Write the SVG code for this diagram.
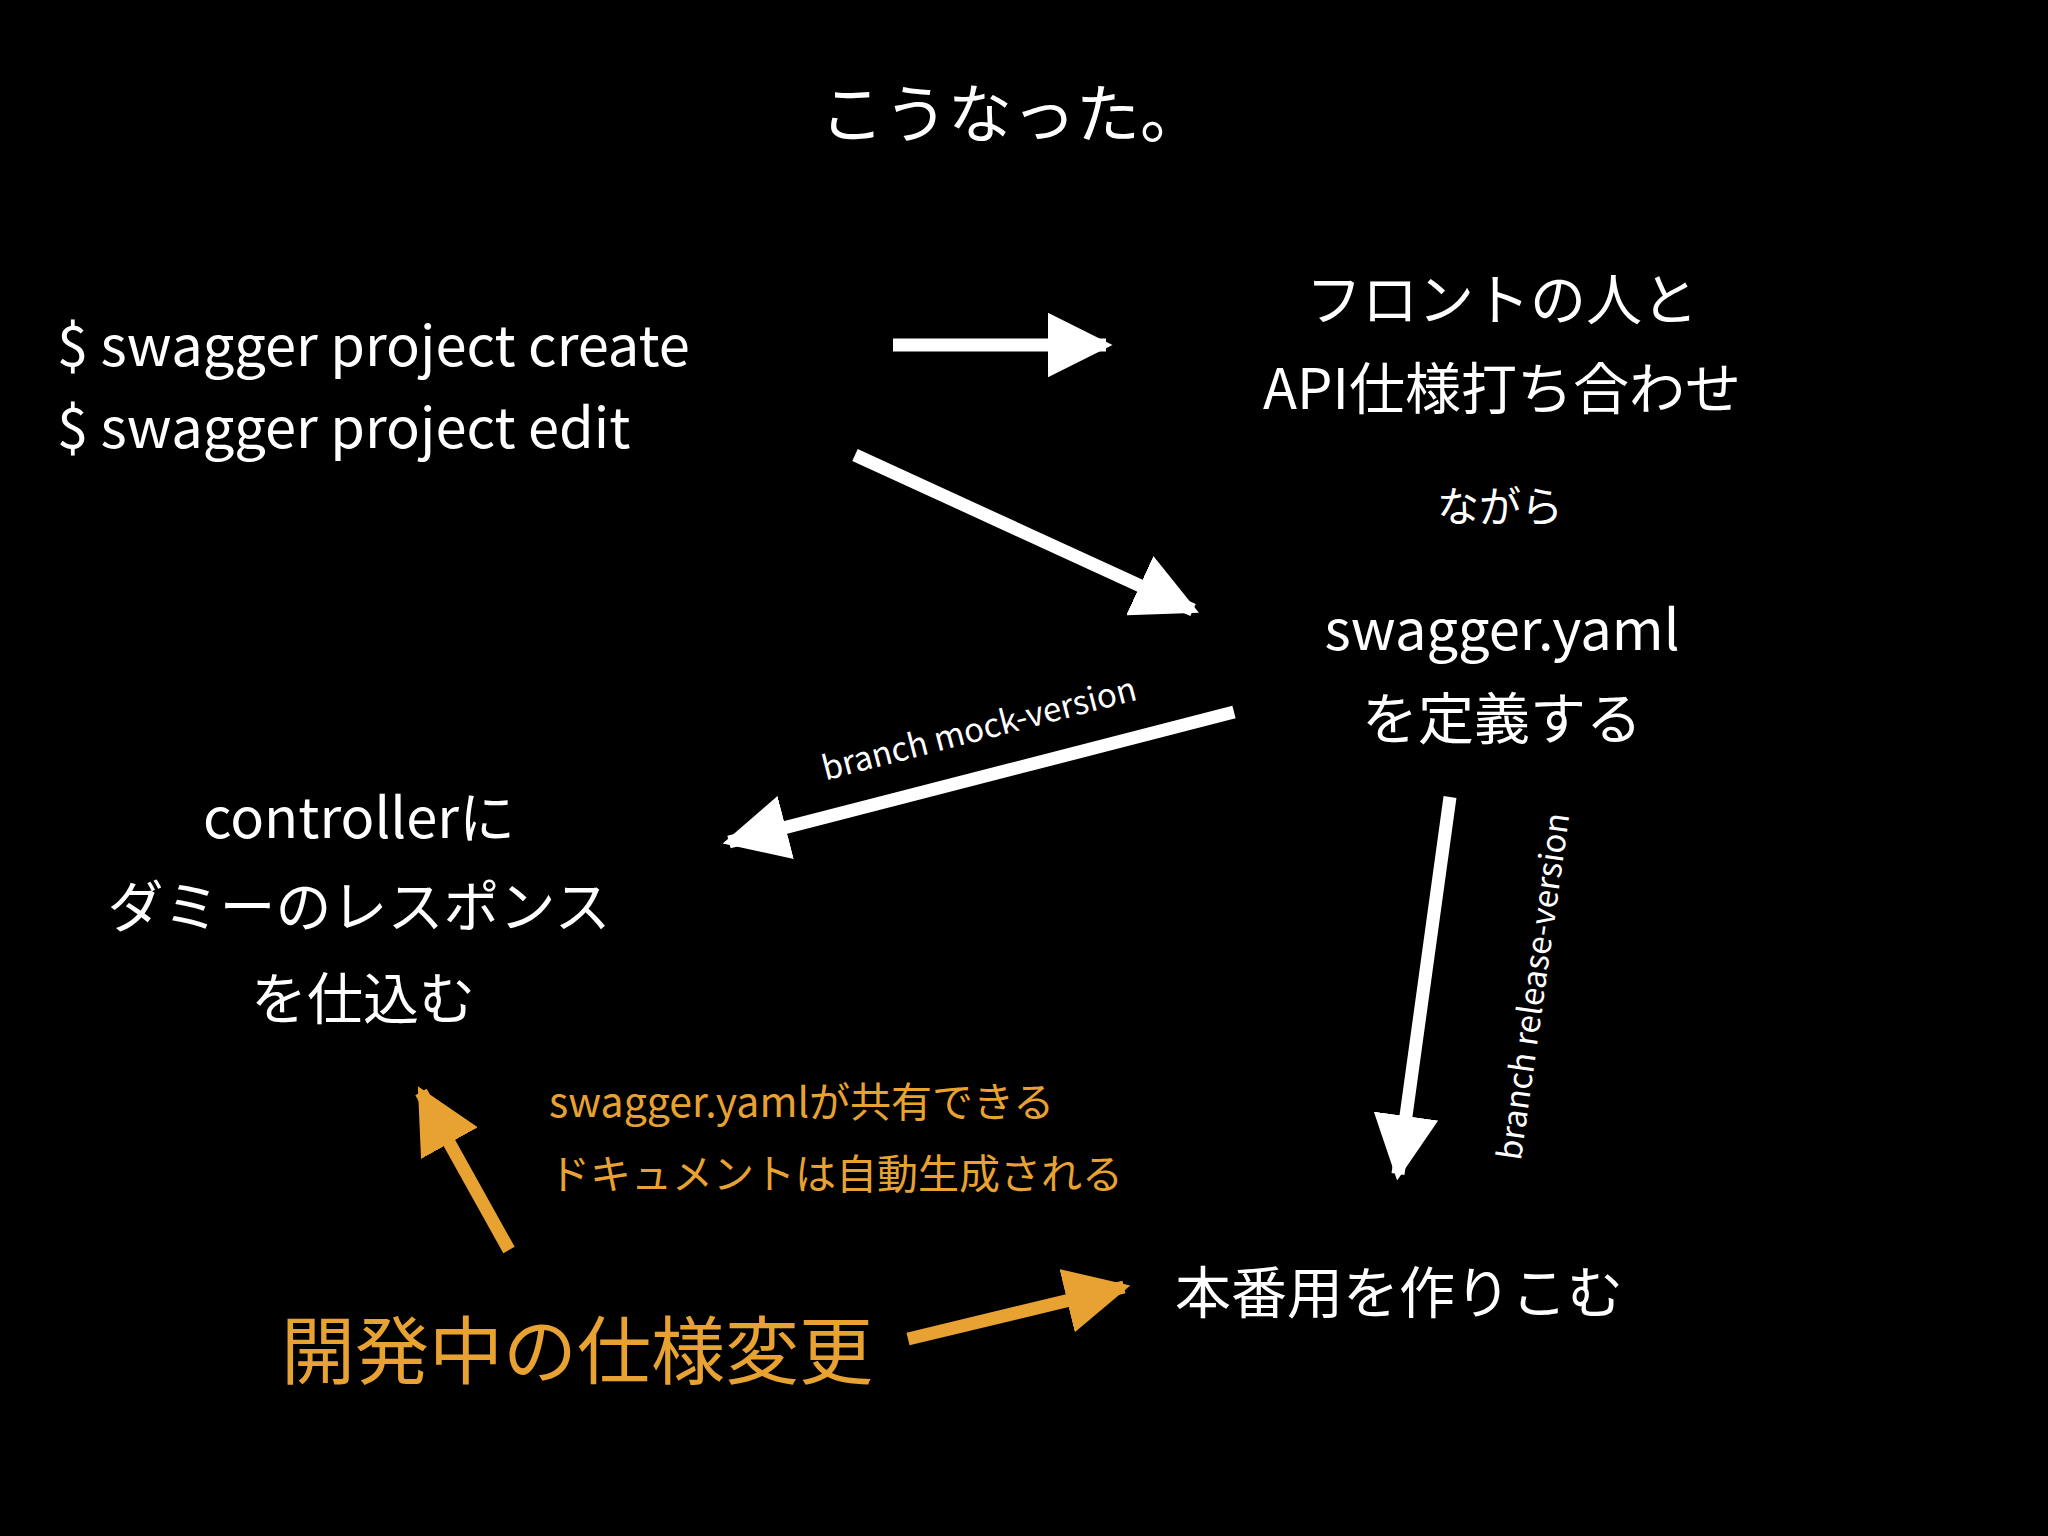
<svg xmlns="http://www.w3.org/2000/svg" width="2048" height="1536" viewBox="0 0 2048 1536">
<style>
text{font-family:"Noto Sans CJK JP","Noto Sans",sans-serif;fill:#fff}
.o{fill:#E8A232}
.c{text-anchor:middle}
.w{stroke:#fff;stroke-width:13;fill:none}
.y{stroke:#E8A232;stroke-width:13;fill:none}
</style>
<defs>
<marker id="hw" markerUnits="strokeWidth" markerWidth="5" markerHeight="5" refX="4.5" refY="2.5" orient="auto"><path d="M0,0L5,2.5L0,5z" fill="#fff"/></marker>
<marker id="hy" markerUnits="strokeWidth" markerWidth="5" markerHeight="5" refX="4.5" refY="2.5" orient="auto"><path d="M0,0L5,2.5L0,5z" fill="#E8A232"/></marker>
</defs>
<rect width="2048" height="1536" fill="#000"/>
<text class="c" x="1012" y="137" font-size="64">こうなった。</text>
<g id="cmd"><text x="57" y="366" font-size="56">$ swagger project create</text><text x="57" y="448" font-size="56">$ swagger project edit</text></g>
<g id="front"><text class="c" x="1502" y="320" font-size="56">フロントの人と</text><text class="c" x="1502" y="409" font-size="56">API仕様打ち合わせ</text></g>
<g id="nagara"><text class="c" x="1500" y="522" font-size="42">ながら</text></g>
<g id="yaml"><text class="c" x="1502" y="650" font-size="56">swagger.yaml</text><text class="c" x="1502" y="739" font-size="56">を定義する</text></g>
<g id="ctrl"><text class="c" x="359" y="838" font-size="56">controllerに</text><text class="c" x="359" y="927" font-size="56">ダミーのレスポンス</text><text class="c" x="363" y="1019" font-size="56">を仕込む</text></g>
<g id="note"><text class="o" x="549" y="1117" font-size="41">swagger.yamlが共有できる</text><text class="o" x="549" y="1189" font-size="41">ドキュメントは自動生成される</text></g>
<g id="change"><text class="o" x="281" y="1378" font-size="74">開発中の仕様変更</text></g>
<g id="prod"><text x="1175" y="1313" font-size="56">本番用を作りこむ</text></g>
<g id="connectors">
<line class="w" x1="893" y1="345" x2="1106" y2="345" marker-end="url(#hw)"/>
<line class="w" x1="855" y1="455" x2="1193" y2="610" marker-end="url(#hw)"/>
<line class="w" x1="1234" y1="712" x2="729" y2="842" marker-end="url(#hw)"/>
<line class="w" x1="1450" y1="797" x2="1398" y2="1174" marker-end="url(#hw)"/>
<line class="y" x1="509" y1="1250" x2="421" y2="1092" marker-end="url(#hy)"/>
<line class="y" x1="908" y1="1339" x2="1124" y2="1287" marker-end="url(#hy)"/>
<text class="c" x="982" y="740" font-size="33" transform="rotate(-14.5 982 740)">branch mock-version</text>
<text class="c" x="1545" y="988" font-size="33" transform="rotate(-82 1545 988)">branch release-version</text>
</g>
</svg>
